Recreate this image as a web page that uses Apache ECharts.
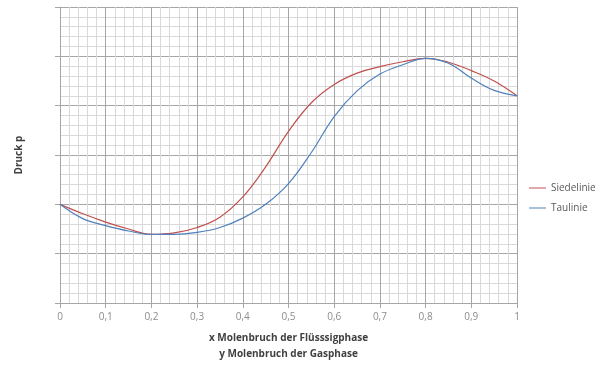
<!DOCTYPE html>
<html>
<head>
    <meta charset="utf-8">
    <title>Siedediagramm</title>
    <script src="https://cdn.jsdelivr.net/npm/echarts@6/dist/echarts.min.js"></script>
    <style>
        body { margin: 0; background: #fff; }
    </style>
</head>
<body>
<div id="main" style="width: 600px;height:367px;"></div>
<script type="text/javascript">
    // Molenbruch x / y
    var molenbruch = [0, 0.05, 0.1, 0.15, 0.2, 0.25, 0.3, 0.35, 0.4, 0.45, 0.5, 0.55, 0.6, 0.65, 0.7, 0.75, 0.8, 0.85, 0.9, 0.95, 1];
    // Druck, Siedelinie
    var siedelinie = [20, 18.1, 16.4, 15.0, 13.9, 14.2, 15.3, 17.4, 21.5, 27.6, 34.8, 40.6, 44.3, 46.6, 47.9, 48.9, 49.6, 48.8, 47.1, 45.0, 42.0];
    // Druck, Taulinie
    var taulinie = [20, 17.1, 15.7, 14.6, 13.9, 13.9, 14.3, 15.3, 17.2, 20.0, 24.2, 30.5, 37.8, 43.0, 46.4, 48.3, 49.6, 48.6, 45.6, 43.1, 42.0];

    function pairs(ys) {
        var out = [];
        for (var i = 0; i < molenbruch.length; i++) {
            out.push([molenbruch[i], ys[i]]);
        }
        return out;
    }

    var myChart = echarts.init(document.getElementById('main'));

    var option = {
        animation: false,
        grid: {left: 60, right: 83, top: 7, bottom: 62},
        legend: {
            orient: 'vertical',
            left: 524,
            top: 176,
            icon: 'rect',
            itemWidth: 17,
            itemHeight: 1,
            itemGap: 6,
            textStyle: {color: '#595959', fontSize: 10, fontFamily: 'Open Sans', lineHeight: 14},
            data: ['Siedelinie', 'Taulinie']
        },
        xAxis: {
            type: 'value',
            min: 0,
            max: 1,
            interval: 0.1,
            name: 'x Molenbruch der Flüsssigphase\ny Molenbruch der Gasphase',
            nameLocation: 'middle',
            nameGap: 27,
            nameTextStyle: {color: '#404040', fontWeight: 'bold', fontSize: 10, fontFamily: 'Open Sans', lineHeight: 16},
            axisLine: {lineStyle: {color: '#a6a6a6'}},
            axisTick: {show: true, length: 5, lineStyle: {color: '#a6a6a6'}},
            axisLabel: {
                color: '#8c8c8c', fontSize: 10, fontFamily: 'Open Sans', margin: 9,
                formatter: function (v) { return String(v).replace('.', ','); }
            },
            splitLine: {show: true, lineStyle: {color: '#a6a6a6'}},
            minorTick: {show: false, splitNumber: 5},
            minorSplitLine: {show: true, lineStyle: {color: '#d9d9d9'}}
        },
        yAxis: {
            type: 'value',
            min: 0,
            max: 60,
            interval: 10,
            name: 'Druck p',
            nameLocation: 'middle',
            nameGap: 36,
            nameTextStyle: {color: '#404040', fontWeight: 'bold', fontSize: 10, fontFamily: 'Open Sans'},
            axisLine: {show: true, lineStyle: {color: '#a6a6a6'}},
            axisTick: {show: true, length: 5, lineStyle: {color: '#a6a6a6'}},
            axisLabel: {show: false},
            splitLine: {show: true, lineStyle: {color: '#a6a6a6'}},
            minorTick: {show: false, splitNumber: 5},
            minorSplitLine: {show: true, lineStyle: {color: '#d9d9d9'}}
        },
        series: [
            {
                name: 'Siedelinie',
                type: 'line',
                smooth: 0.4,
                symbol: 'none',
                color: '#c0504d',
                lineStyle: {width: 1.2},
                data: pairs(siedelinie)
            },
            {
                name: 'Taulinie',
                type: 'line',
                smooth: 0.4,
                symbol: 'none',
                color: '#4f81bd',
                lineStyle: {width: 1.2},
                data: pairs(taulinie)
            }
        ]
    };

    myChart.setOption(option);
</script>
</body>
</html>
